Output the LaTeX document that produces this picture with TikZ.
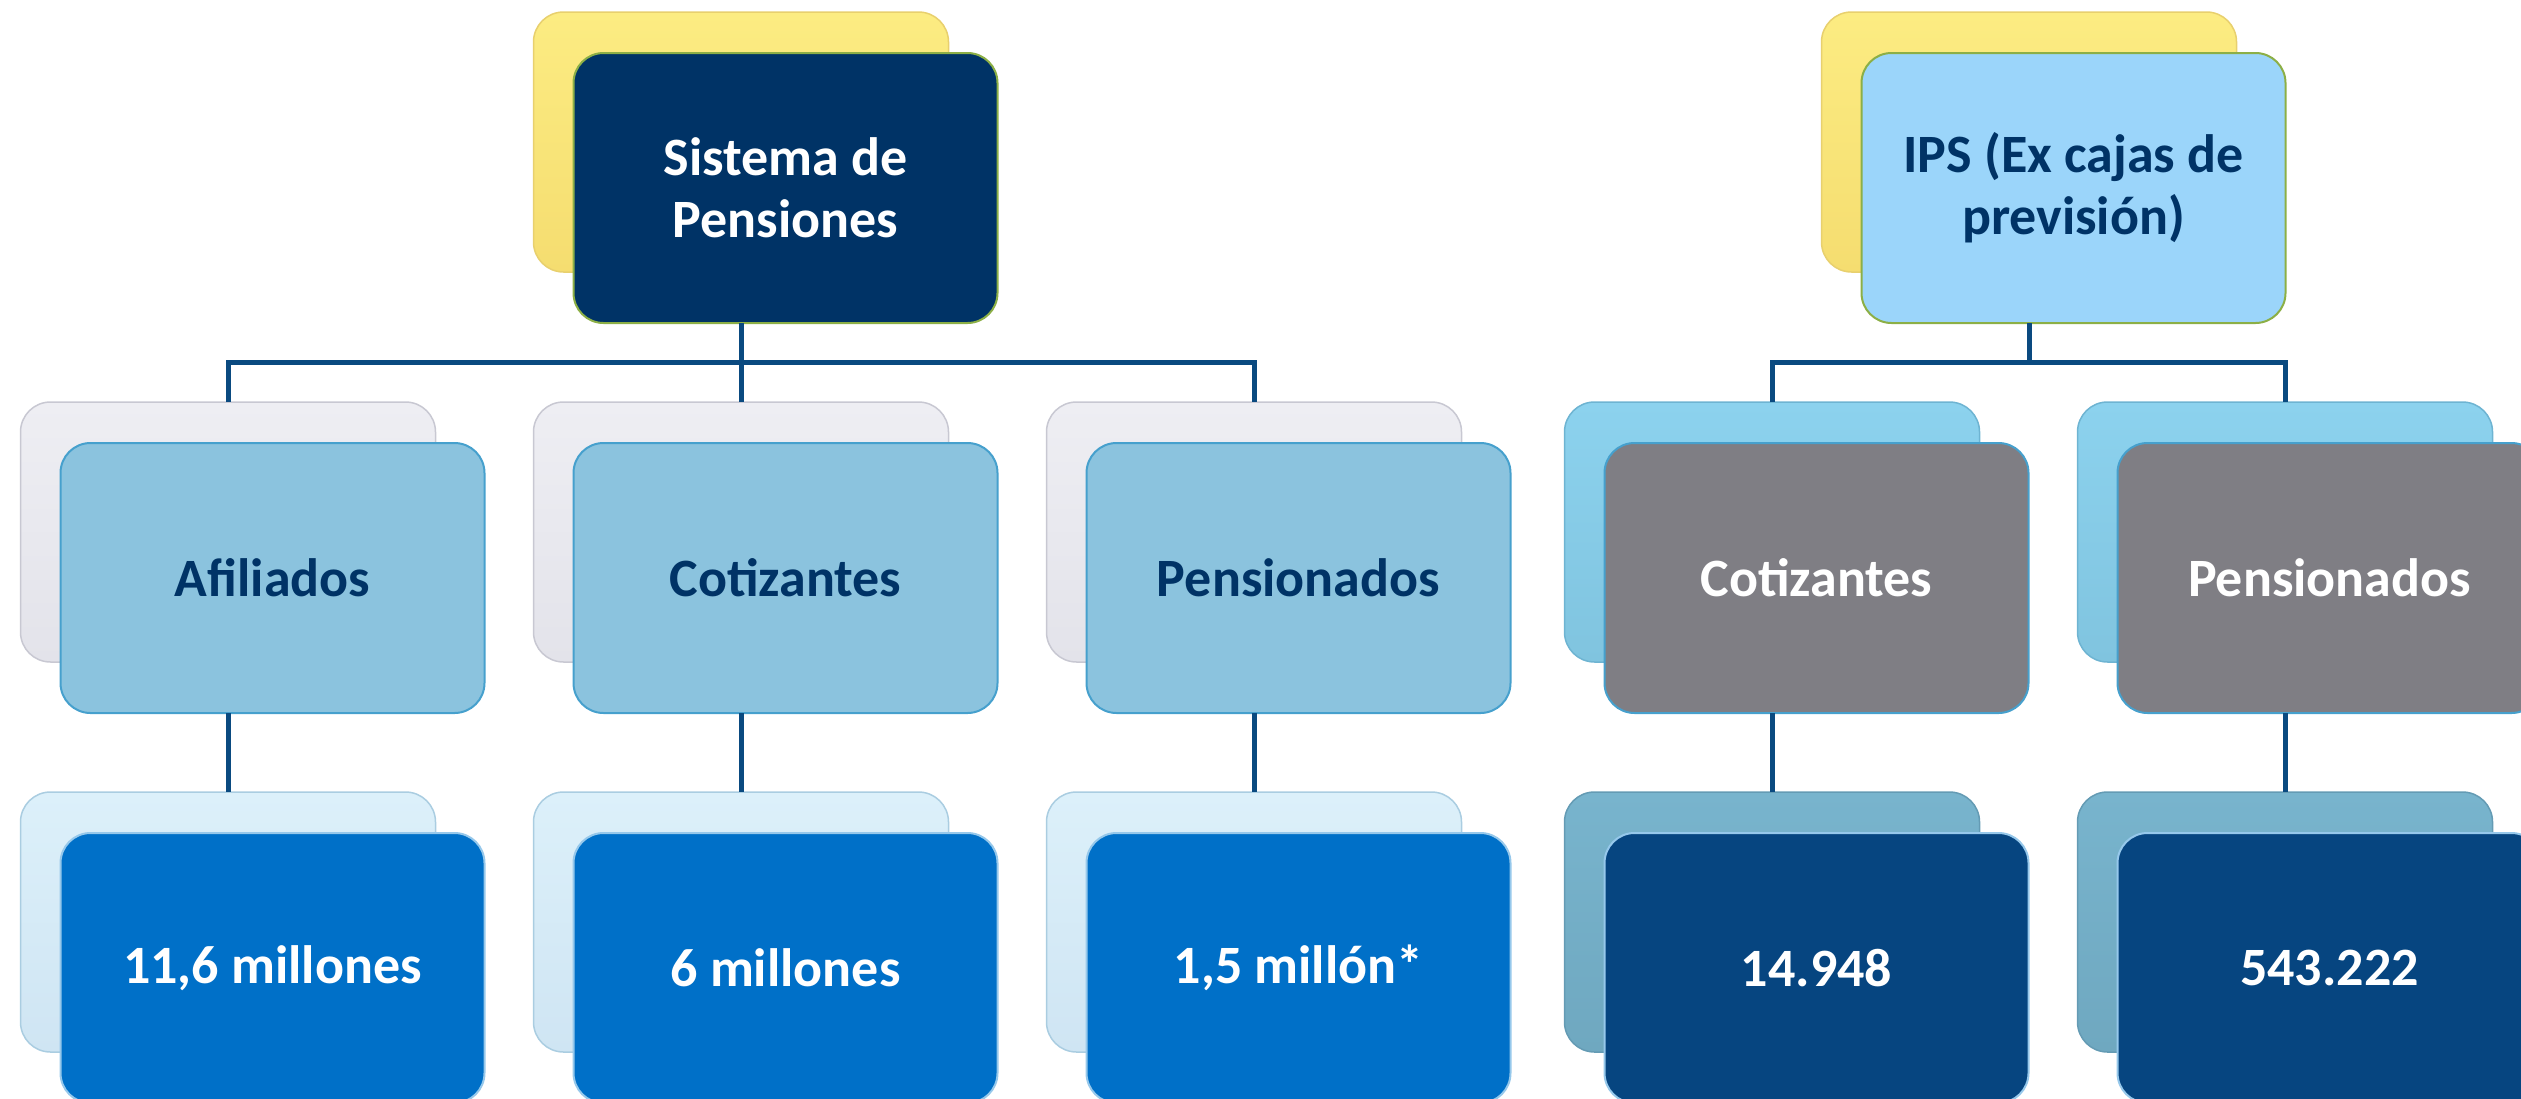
\documentclass[tikz,border=0pt]{standalone}
\usepackage{fontspec}
\setmainfont{Carlito}
\definecolor{navy}{RGB}{0,51,102}
\definecolor{conncol}{RGB}{10,74,128}
\definecolor{yellowb}{RGB}{245,221,112}
\definecolor{yellowl}{RGB}{252,236,130}
\definecolor{yellowbd}{RGB}{232,208,110}
\definecolor{greyb}{RGB}{227,227,234}
\definecolor{greyl}{RGB}{238,238,243}
\definecolor{greybd}{RGB}{200,200,210}
\definecolor{lblue}{RGB}{139,195,222}
\definecolor{lbluebd}{RGB}{70,160,205}
\definecolor{pblueb}{RGB}{207,229,243}
\definecolor{pbluel}{RGB}{220,240,250}
\definecolor{pbluebd}{RGB}{170,205,225}
\definecolor{midblue}{RGB}{0,112,200}
\definecolor{midbluebd}{RGB}{150,200,235}
\definecolor{ipsblue}{RGB}{155,213,250}
\definecolor{greenbd}{RGB}{140,175,70}
\definecolor{skyb}{RGB}{128,196,223}
\definecolor{skyl}{RGB}{140,210,238}
\definecolor{skybd}{RGB}{110,180,210}
\definecolor{greyf}{RGB}{127,126,132}
\definecolor{tealb}{RGB}{111,168,192}
\definecolor{teall}{RGB}{120,180,205}
\definecolor{tealbd}{RGB}{100,155,180}
\definecolor{dblue}{RGB}{6,69,128}
\tikzset{
  backbox/.style={rectangle, rounded corners=30pt, minimum width=415pt, minimum height=260pt, inner sep=0pt, outer sep=0pt, line width=1.5pt},
  frontbox/.style={rectangle, rounded corners=30pt, minimum width=424pt, minimum height=270pt, inner sep=0pt, outer sep=0pt, line width=2pt, align=center, font=\fontsize{54}{62}\selectfont\bfseries},
  conn/.style={draw=conncol, line width=5pt}
}
\begin{document}
\begin{tikzpicture}[x=1pt,y=-1pt]
\useasboundingbox (0,0) rectangle (2521,1098);
\clip (0,0) rectangle (2521,1098);
% ---------- left group ----------
\node[backbox, top color=yellowl, bottom color=yellowb, draw=yellowbd] (sysb) at (741,142) {};
\node[frontbox, fill=navy, draw=greenbd, text=white] (sys) at (785.5,188) {Sistema de\\Pensiones};

\node[backbox, top color=greyl, bottom color=greyb, draw=greybd] (afb) at (228,532) {};
\node[frontbox, fill=lblue, draw=lbluebd, text=navy] (af) at (272.5,578) {Afiliados};
\node[backbox, top color=greyl, bottom color=greyb, draw=greybd] (cotb) at (741,532) {};
\node[frontbox, fill=lblue, draw=lbluebd, text=navy] (cot) at (785.5,578) {Cotizantes};
\node[backbox, top color=greyl, bottom color=greyb, draw=greybd] (penb) at (1254,532) {};
\node[frontbox, fill=lblue, draw=lbluebd, text=navy] (pen) at (1298.5,578) {Pensionados};

\node[backbox, top color=pbluel, bottom color=pblueb, draw=pbluebd] (afnb) at (228,922) {};
\node[frontbox, fill=midblue, draw=midbluebd, text=white] (afn) at (272.5,968) {11,6 millones};
\node[backbox, top color=pbluel, bottom color=pblueb, draw=pbluebd] (cotnb) at (741,922) {};
\node[frontbox, fill=midblue, draw=midbluebd, text=white] (cotn) at (785.5,968) {6 millones};
\node[backbox, top color=pbluel, bottom color=pblueb, draw=pbluebd] (pennb) at (1254,922) {};
\node[frontbox, fill=midblue, draw=midbluebd, text=white] (penn) at (1298.5,968) {1,5 millón*};

% ---------- right group ----------
\node[backbox, top color=yellowl, bottom color=yellowb, draw=yellowbd] (ipsb) at (2029,142) {};
\node[frontbox, fill=ipsblue, draw=greenbd, text=navy] (ips) at (2073.5,188) {IPS (Ex cajas de\\previsión)};

\node[backbox, top color=skyl, bottom color=skyb, draw=skybd] (icotb) at (1772,532) {};
\node[frontbox, fill=greyf, draw=lbluebd, text=white] (icot) at (1816.5,578) {Cotizantes};
\node[backbox, top color=skyl, bottom color=skyb, draw=skybd] (ipenb) at (2285,532) {};
\node[frontbox, fill=greyf, draw=lbluebd, text=white] (ipen) at (2329.5,578) {Pensionados};

\node[backbox, top color=teall, bottom color=tealb, draw=tealbd] (icotnb) at (1772,922) {};
\node[frontbox, fill=dblue, draw=midbluebd, text=white] (icotn) at (1816.5,968) {14.948};
\node[backbox, top color=teall, bottom color=tealb, draw=tealbd] (ipennb) at (2285,922) {};
\node[frontbox, fill=dblue, draw=midbluebd, text=white] (ipenn) at (2329.5,968) {543.222};

% ---------- connectors ----------
\coordinate (busL) at (741,362);
\coordinate (busR) at (2029,362);
\draw[conn] (sysb.center |- sys.south) -- (busL);
\draw[conn] (afb.north) |- (busL) -| (penb.north);
\draw[conn] (cotb.north) -- (busL);
\draw[conn] (ipsb.center |- ips.south) -- (busR);
\draw[conn] (icotb.north) |- (busR) -| (ipenb.north);

\draw[conn] (afb.center |- af.south) -- (afnb.north);
\draw[conn] (cotb.center |- cot.south) -- (cotnb.north);
\draw[conn] (penb.center |- pen.south) -- (pennb.north);
\draw[conn] (icotb.center |- icot.south) -- (icotnb.north);
\draw[conn] (ipenb.center |- ipen.south) -- (ipennb.north);
\end{tikzpicture}
\end{document}
